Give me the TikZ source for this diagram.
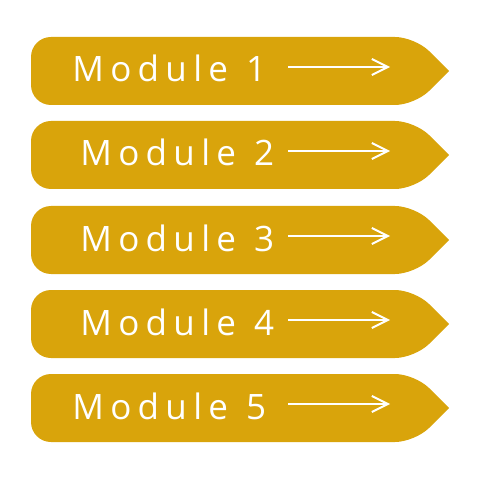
\documentclass[tikz,border=0pt]{standalone}
\usepackage{fontspec}
\setmainfont{Open Sans}[LetterSpace=18]
\usetikzlibrary{arrows.meta}
\definecolor{gold}{HTML}{D9A40B}
\tikzset{
  modtext/.style={text=white, font=\fontsize{17.5pt}{20pt}\selectfont, anchor=base west, inner sep=0pt},
  modarrow/.style={draw=white, line width=1pt, -{Straight Barb[length=8pt,width=8pt,line width=1pt]}},
  modshape/.style={fill=gold, draw=none}
}
\newcommand{\modbox}[4]{% name, top, label number, textx
  \pgfmathsetmacro{\tp}{#2}\pgfmathsetmacro{\bt}{#2+68}\pgfmathsetmacro{\cy}{#2+34}
  \fill[modshape] (31,\cy) [rounded corners=10] -- (31,\tp) [rounded corners=10] -- (415,\tp) [sharp corners] -- (449,\cy) [rounded corners=10] -- (415,\bt) [rounded corners=10] -- (31,\bt) [sharp corners] -- cycle;
  \node[modtext] (#1) at (#4,\cy+11) {Module\hspace{9pt}#3};
  \coordinate (#1s) at (288,\cy-4);
  \coordinate (#1e) at (390,\cy-4);
  \draw[modarrow] (#1s) -- (#1e);
}
\begin{document}
\begin{tikzpicture}[x=0.5pt,y=-0.5pt]
\useasboundingbox (0,0) rectangle (480,480);
\modbox{m1}{37}{1}{72}
\modbox{m2}{121}{2}{80}
\modbox{m3}{206}{3}{80}
\modbox{m4}{290}{4}{80}
\modbox{m5}{374}{5}{72}
\end{tikzpicture}
\end{document}
